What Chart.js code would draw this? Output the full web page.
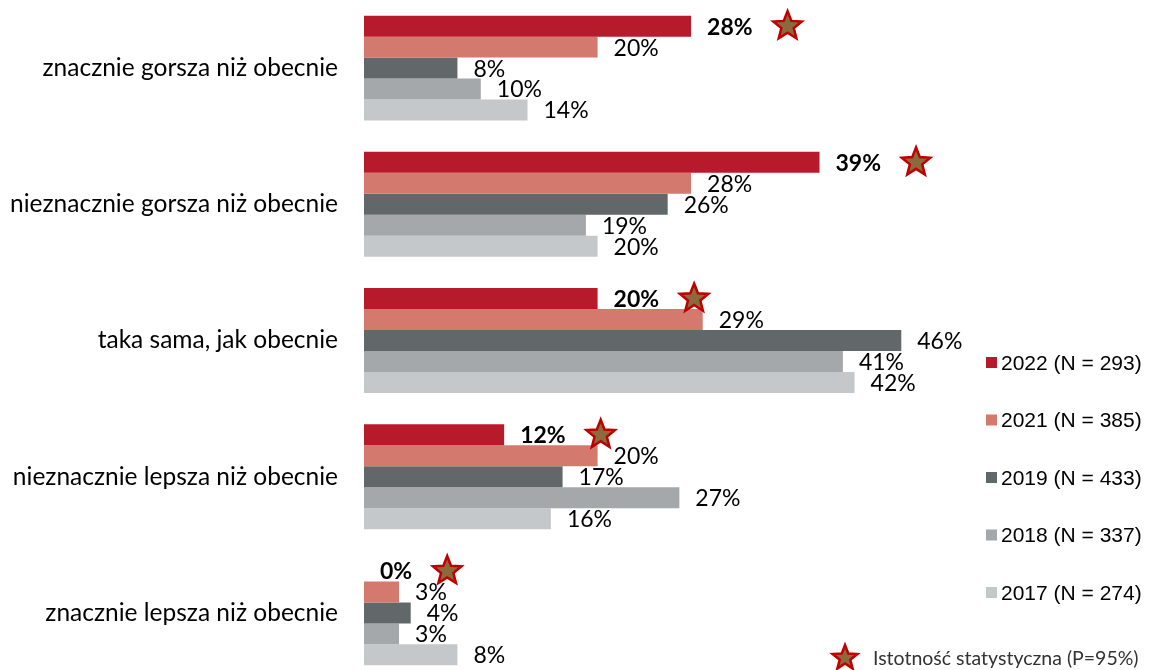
<!DOCTYPE html>
<html>
<head>
<meta charset="utf-8">
<script src="https://cdn.jsdelivr.net/npm/chart.js@4/dist/chart.umd.min.js"></script>
<style>
  html, body { margin: 0; padding: 0; background: #fff; overflow: hidden; }
  #wrap { position: relative; width: 1171px; height: 681px; }
</style>
</head>
<body>
<div id="wrap"><canvas id="chart"></canvas></div>
<script>
const categories = [
    "znacznie gorsza niż obecnie",
    "nieznacznie gorsza niż obecnie",
    "taka sama, jak obecnie",
    "nieznacznie lepsza niż obecnie",
    "znacznie lepsza niż obecnie"
];
const seriesLabels = ["2022 (N = 293)", "2021 (N = 385)", "2019 (N = 433)", "2018 (N = 337)", "2017 (N = 274)"];
const values2022 = [28, 39, 20, 12, 0];
const values2021 = [20, 28, 29, 20, 3];
const values2019 = [8, 26, 46, 17, 4];
const values2018 = [10, 19, 41, 27, 3];
const values2017 = [14, 20, 42, 16, 8];
const significant2022 = [true, true, true, true, true];
const significanceNote = "Istotność statystyczna (P=95%)";

const colors = ["#B71B2B", "#D4796E", "#62676A", "#A5A8AA", "#C5C8CA"];
const allValues = [values2022, values2021, values2019, values2018, values2017];

function drawStar(ctx, cx, cy, outer, inner) {
    ctx.beginPath();
    for (let k = 0; k < 10; k++) {
        const r = k % 2 === 0 ? outer : inner;
        const a = -Math.PI / 2 + k * Math.PI / 5;
        const px = cx + r * Math.cos(a);
        const py = cy + r * Math.sin(a);
        if (k === 0) ctx.moveTo(px, py); else ctx.lineTo(px, py);
    }
    ctx.closePath();
    ctx.fillStyle = "#8B6B3D";
    ctx.fill();
    ctx.lineWidth = 2.5;
    ctx.strokeStyle = "#C00000";
    ctx.stroke();
}

// value labels + stars next to the bars
const labelPlugin = {
    id: 'barLabels',
    afterDatasetsDraw(chart) {
        const ctx = chart.ctx;
        ctx.save();
        ctx.textBaseline = 'middle';
        ctx.textAlign = 'left';
        chart.data.datasets.forEach((ds, di) => {
            const meta = chart.getDatasetMeta(di);
            meta.data.forEach((bar, i) => {
                const txt = ds.data[i] + '%';
                ctx.font = (di === 0 ? 'bold ' : '') + '23px Lato';
                ctx.fillStyle = '#000';
                const x = bar.x + 16;
                const y = bar.y + 1;
                ctx.fillText(txt, x, y);
                if (di === 0 && significant2022[i]) {
                    const w = ctx.measureText(txt).width;
                    drawStar(ctx, x + w + 35, y - 1, 15, 6.5);
                }
            });
        });
        ctx.restore();
    }
};

// legend on the right side
const legendPlugin = {
    id: 'sideLegend',
    afterDraw(chart) {
        const ctx = chart.ctx;
        ctx.save();
        ctx.textBaseline = 'middle';
        ctx.textAlign = 'left';
        ctx.font = '21px "Liberation Sans"';
        chart.data.datasets.forEach((ds, di) => {
            const y = 363 + di * 57.5;
            ctx.fillStyle = ds.backgroundColor;
            ctx.fillRect(986, y - 6, 11, 11);
            ctx.fillStyle = '#000';
            ctx.fillText(ds.label, 1001, y + 1);
        });
        drawStar(ctx, 845, 658, 13, 5.5);
        ctx.font = '19.5px Lato';
        ctx.fillStyle = '#333';
        ctx.fillText(significanceNote, 873, 659);
        ctx.restore();
    }
};

new Chart(document.getElementById("chart"), {
    type: 'bar',
    data: {
        labels: categories,
        datasets: seriesLabels.map((lbl, di) => ({
            label: lbl,
            data: allValues[di],
            backgroundColor: colors[di],
            borderWidth: 0,
            categoryPercentage: 0.77,
            barPercentage: 1
        }))
    },
    options: {
        indexAxis: 'y',
        responsive: true,
        maintainAspectRatio: false,
        animation: false,
        layout: { padding: { left: 0, right: 223, top: 0, bottom: 0 } },
        plugins: {
            legend: { display: false },
            tooltip: { enabled: false }
        },
        scales: {
            x: {
                display: false,
                min: 0,
                max: 50
            },
            y: {
                grid: { display: false, drawTicks: false },
                border: { display: false },
                ticks: {
                    color: '#000',
                    font: { family: 'Lato', size: 24.5 },
                    padding: 26
                },
                afterFit: (s) => {
                    s.width = 364;
                    s.paddingTop = 0;
                    s.paddingBottom = 0;
                }
            }
        }
    },
    plugins: [labelPlugin, legendPlugin]
});
</script>
</body>
</html>
